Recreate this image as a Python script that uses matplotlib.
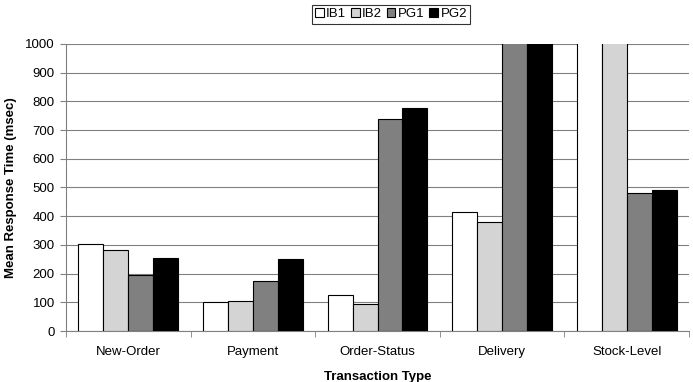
import matplotlib
matplotlib.use("Agg")
import matplotlib.pyplot as plt
import numpy as np

plt.rcParams['font.family'] = ['Liberation Sans', 'DejaVu Sans']

categories = ["New-Order", "Payment", "Order-Status", "Delivery", "Stock-Level"]
series_names = ["IB1", "IB2", "PG1", "PG2"]
ib1 = [303, 101, 127, 415, 1100]
ib2 = [282, 105, 95, 380, 1100]
pg1 = [195, 175, 740, 1100, 480]
pg2 = [254, 250, 778, 1100, 490]
yticks = list(range(0, 1001, 100))

colors = ["#ffffff", "#d4d4d4", "#808080", "#000000"]

fig = plt.figure(figsize=(6.93, 3.82), dpi=100)
ax = fig.add_axes([66/693, 1-331/382, (689-66)/693, (331-44)/382])

x = np.arange(len(categories))
w = 0.2
for i, (vals, c, name) in enumerate(zip([ib1, ib2, pg1, pg2], colors, series_names)):
    ax.bar(x + (i - 1.5) * w, vals, width=w, color=c, edgecolor="#000000",
           linewidth=0.8, label=name, zorder=3)

ax.set_xlim(-0.5, len(categories) - 0.5)
ax.set_ylim(0, 1000)
ax.set_yticks(yticks)
ax.set_yticklabels([str(v) for v in yticks], fontsize=9.5)
ax.yaxis.grid(True, color="#808080", linewidth=0.8, zorder=0)
ax.set_xticks(x)
ax.set_xticklabels(categories, fontsize=9.5)
ax.set_xticks(np.arange(len(categories) + 1) - 0.5, minor=True)
ax.tick_params(axis='x', which='major', length=0, pad=11)
ax.tick_params(axis='x', which='minor', length=4, color="#808080")
ax.tick_params(axis='y', length=4, color="#808080", pad=4)
for s in ["top", "right"]:
    ax.spines[s].set_visible(False)
ax.spines["left"].set_color("#808080")
ax.spines["bottom"].set_color("#808080")

ax.set_xlabel("Transaction Type", fontsize=9.5, fontweight="bold", labelpad=9)
ax.set_ylabel("Mean Response Time (msec)", fontsize=9.5, fontweight="bold", labelpad=6)

leg = fig.legend(loc="upper center", bbox_to_anchor=(391/693, 1 - 5/382), ncol=4, fontsize=9.5,
                 frameon=True, fancybox=False, edgecolor="#000000",
                 handlelength=0.65, handleheight=0.65, handletextpad=0.2,
                 columnspacing=0.35, borderpad=0.25, borderaxespad=0)
leg.get_frame().set_linewidth(0.8)

fig.savefig("out.png", dpi=100)
